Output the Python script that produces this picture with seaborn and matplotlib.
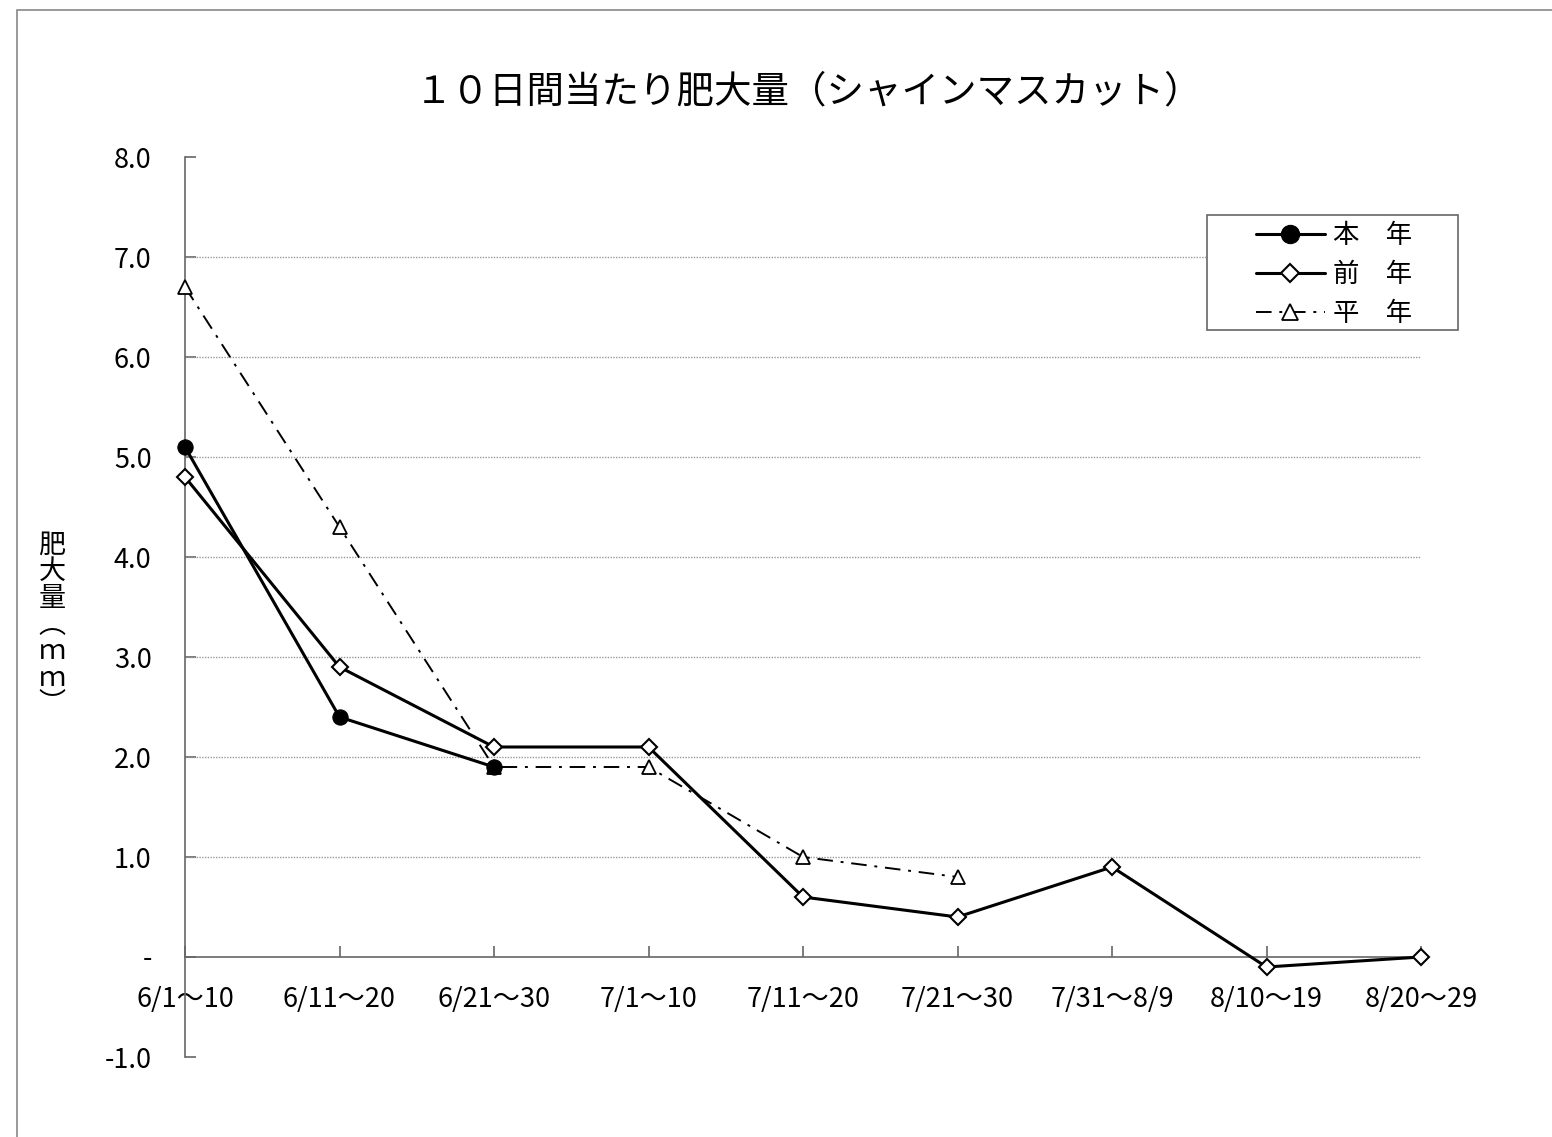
import numpy as np
import pandas as pd
import matplotlib
matplotlib.use('Agg')
import matplotlib.pyplot as plt
import seaborn as sns
from matplotlib.patches import Rectangle

sns.set_theme(style='white')
plt.rcParams['font.family'] = ['Noto Sans CJK JP', 'DejaVu Sans']
plt.rcParams['text.color'] = 'black'

# ── data ─────────────────────────────────────────────
periods = ['6/1〜10', '6/11〜20', '6/21〜30', '7/1〜10', '7/11〜20',
           '7/21〜30', '7/31〜8/9', '8/10〜19', '8/20〜29']
this_year = [5.1, 2.4, 1.9]
last_year = [4.8, 2.9, 2.1, 2.1, 0.6, 0.4, 0.9, -0.1, 0.0]
normal_year = [6.7, 4.3, 1.9, 1.9, 1.0, 0.8]
ytick_vals = [-1, 0, 1, 2, 3, 4, 5, 6, 7, 8]
ytick_labels = ['-1.0', '-', '1.0', '2.0', '3.0', '4.0', '5.0', '6.0', '7.0', '8.0']

W, H = 1552, 1137
fig = plt.figure(figsize=(W / 100, H / 100), dpi=100)
# outer chart frame
fig.patches.append(Rectangle((17 / W, -0.1), 1.2, 1 - 10 / H + 0.1,
                             transform=fig.transFigure, fill=False,
                             edgecolor='#888888', lw=1.2))
ax = fig.add_axes([185 / W, (H - 1057) / H, (1421 - 185) / W, 900 / H])

# legend frame (covers the gridline behind it)
ax.add_patch(Rectangle((1207 / W, 1 - 330 / H), 251 / W, 115 / H,
                       transform=fig.transFigure, facecolor='white',
                       edgecolor='#666666', lw=1.2, zorder=6, clip_on=False))

# gridlines (dotted gray) at 1..7
ax.hlines(ytick_vals[2:-1], 0, len(periods) - 1, colors='#999999',
          linestyles=(0, (1, 1)), lw=1.0, zorder=1)

sns.lineplot(x=np.arange(len(normal_year)), y=normal_year, ax=ax, color='black',
             lw=1.4, linestyle=(0, (8, 4, 1.5, 4)), marker='^', markersize=10,
             markerfacecolor='white', markeredgecolor='black', markeredgewidth=1.3,
             label='平　年', clip_on=False, zorder=3)
sns.lineplot(x=np.arange(len(last_year)), y=last_year, ax=ax, color='black',
             lw=2.2, marker='D', markersize=8, markerfacecolor='white',
             markeredgecolor='black', markeredgewidth=1.5,
             label='前　年', clip_on=False, zorder=4)
sns.lineplot(x=np.arange(len(this_year)), y=this_year, ax=ax, color='black',
             lw=2.2, marker='o', markersize=11, markerfacecolor='black',
             markeredgecolor='black', label='本　年', clip_on=False, zorder=5)

ax.set_xlim(0, len(periods) - 1)
ax.set_ylim(-1, 8)
ax.set_xticks(np.arange(len(periods)))
ax.set_xticklabels(periods)
ax.set_yticks(ytick_vals)
ax.set_yticklabels(ytick_labels)
ax.spines['top'].set_visible(False)
ax.spines['right'].set_visible(False)
ax.spines['bottom'].set_position(('data', 0))
for s in ['left', 'bottom']:
    ax.spines[s].set_color('#666666')
    ax.spines[s].set_linewidth(1.2)
ax.tick_params(axis='x', direction='in', length=8, width=1.2, color='#666666',
               pad=21, bottom=True, labelcolor='black', labelsize=19.5)
ax.tick_params(axis='y', direction='in', length=8, width=1.2, color='#666666',
               pad=24, left=True, labelcolor='black', labelsize=19.5)
ax.set_facecolor('white')

# y label, stacked vertically
fig.text(52 / W, 1 - 625 / H, '肥\n大\n量\n︵\nｍ\nｍ\n︶', ha='center', va='center',
         fontsize=19.5, linespacing=0.98, color='black')

fig.text(808 / W, 1 - 92 / H, '１０日間当たり肥大量（シャインマスカット）',
         ha='center', va='center', fontsize=27, color='black')

handles, labels = ax.get_legend_handles_labels()
order = [2, 1, 0]
leg = ax.legend([handles[i] for i in order], [labels[i] for i in order],
                loc='upper left', bbox_to_anchor=(1256 / W, 1 - 222 / H),
                bbox_transform=fig.transFigure, fontsize=19, frameon=False,
                handlelength=2.6, handletextpad=0.3, borderpad=0.0,
                labelspacing=0.45, borderaxespad=0, markerscale=1.2)
leg.set_zorder(7)

fig.savefig('out.png', dpi=100, facecolor='white')
